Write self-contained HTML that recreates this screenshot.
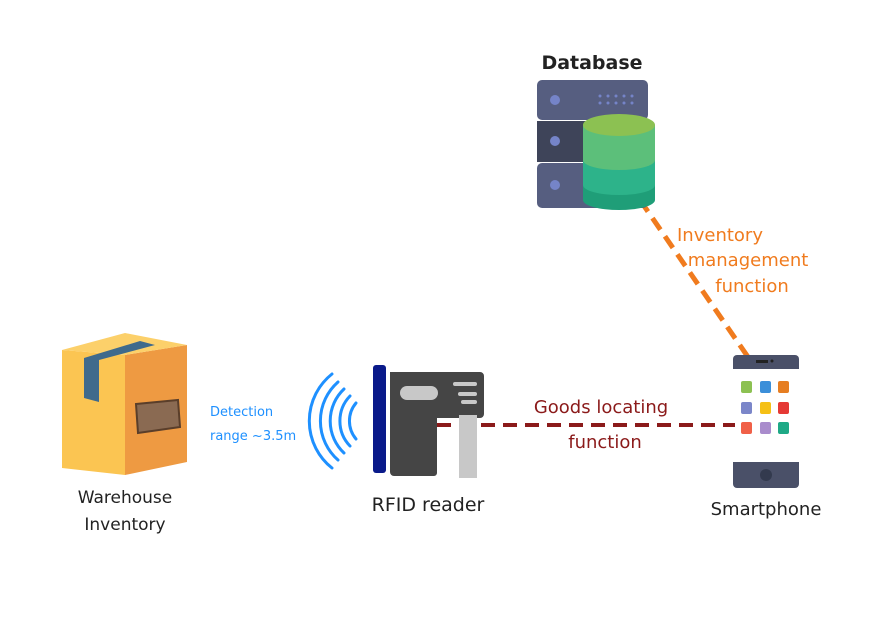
<!DOCTYPE html>
<html><head><style>html,body{margin:0;padding:0;background:#fff}svg{display:block}</style></head>
<body>
<svg width="890" height="630" viewBox="0 0 890 630" xmlns="http://www.w3.org/2000/svg" font-family="'DejaVu Sans','Liberation Sans',sans-serif">
<rect width="890" height="630" fill="#fff"/>
<line x1="640" y1="200" x2="748" y2="357" stroke="#f07b1e" stroke-width="5" stroke-dasharray="14,8"/>
<line x1="437" y1="425" x2="735" y2="425" stroke="#8b1a1a" stroke-width="4" stroke-dasharray="14,8"/>
<rect x="537" y="80" width="111" height="40" rx="5" fill="#565e80"/>
<rect x="537" y="121" width="111" height="41" fill="#3e4459"/>
<rect x="537" y="163" width="111" height="45" rx="5" fill="#565e80"/>
<circle cx="555" cy="100" r="5" fill="#7584c8"/>
<circle cx="555" cy="141" r="5" fill="#7584c8"/>
<circle cx="555" cy="185" r="5" fill="#7584c8"/>
<g fill="#7584c8"><circle cx="600" cy="96" r="1.5"/><circle cx="608" cy="96" r="1.5"/><circle cx="616" cy="96" r="1.5"/><circle cx="624" cy="96" r="1.5"/><circle cx="632" cy="96" r="1.5"/><circle cx="600" cy="103" r="1.5"/><circle cx="608" cy="103" r="1.5"/><circle cx="616" cy="103" r="1.5"/><circle cx="624" cy="103" r="1.5"/><circle cx="632" cy="103" r="1.5"/></g>
<path d="M583 185 v15 a36 10 0 0 0 72 0 v-15z" fill="#1f9e78"/>
<path d="M583 160 v25 a36 10 0 0 0 72 0 v-25z" fill="#2db38a"/>
<path d="M583 125 v35 a36 10 0 0 0 72 0 v-35z" fill="#5cbf7a"/>
<ellipse cx="619" cy="125" rx="36" ry="11" fill="#8cc152"/>
<text x="592" y="69" text-anchor="middle" font-size="19" font-weight="bold" fill="#222">Database</text>
<text x="720" y="241" text-anchor="middle" font-size="18" fill="#f07b1e">Inventory</text>
<text x="748" y="266" text-anchor="middle" font-size="18" fill="#f07b1e">management</text>
<text x="752" y="292" text-anchor="middle" font-size="18" fill="#f07b1e">function</text>
<path d="M737 355 h58 a4 4 0 0 1 4 4 v10 h-66 v-10 a4 4 0 0 1 4 -4z" fill="#4a5068"/>
<rect x="756" y="360" width="12" height="3" fill="#222"/><circle cx="772" cy="361" r="1.5" fill="#222"/>
<path d="M733 462 h66 v22 a4 4 0 0 1 -4 4 h-58 a4 4 0 0 1 -4 -4z" fill="#4a5068"/>
<circle cx="766" cy="475" r="6" fill="#333a4e"/>
<rect x="741" y="381" width="11" height="12" rx="2" fill="#8cc152"/>
<rect x="760" y="381" width="11" height="12" rx="2" fill="#3b8fd9"/>
<rect x="778" y="381" width="11" height="12" rx="2" fill="#e67e22"/>
<rect x="741" y="402" width="11" height="12" rx="2" fill="#7b86c9"/>
<rect x="760" y="402" width="11" height="12" rx="2" fill="#f5c016"/>
<rect x="778" y="402" width="11" height="12" rx="2" fill="#e53935"/>
<rect x="741" y="422" width="11" height="12" rx="2" fill="#f06048"/>
<rect x="760" y="422" width="11" height="12" rx="2" fill="#a98ccc"/>
<rect x="778" y="422" width="11" height="12" rx="2" fill="#1fa986"/>
<text x="766" y="515" text-anchor="middle" font-size="18" fill="#222">Smartphone</text>
<text x="601" y="413" text-anchor="middle" font-size="18" fill="#8b1a1a">Goods locating</text>
<text x="605" y="448" text-anchor="middle" font-size="18" fill="#8b1a1a">function</text>
<path d="M390 372 h90 a4 4 0 0 1 4 4 v38 a4 4 0 0 1 -4 4 h-43 v55 a3 3 0 0 1 -3 3 h-40 a4 4 0 0 1 -4 -4z" fill="#454545"/>
<rect x="459" y="415" width="18" height="63" fill="#c8c8c8"/>
<rect x="400" y="386" width="38" height="14" rx="7" fill="#c8c8c8"/>
<rect x="453" y="382" width="24" height="4" rx="2" fill="#c8c8c8"/>
<rect x="458" y="392" width="19" height="4" rx="2" fill="#c8c8c8"/>
<rect x="461" y="400" width="16" height="4" rx="2" fill="#c8c8c8"/>
<rect x="373" y="365" width="13" height="108" rx="3" fill="#0a1a8a"/>
<g fill="none" stroke="#1e90ff" stroke-width="3" stroke-linecap="round">
<path d="M332 374 a60 60 0 0 0 0 94"/>
<path d="M338 382 a52 52 0 0 0 0 78"/>
<path d="M344 389 a44 44 0 0 0 0 64"/>
<path d="M350 396 a36 36 0 0 0 0 50"/>
<path d="M356 403 a28 28 0 0 0 0 36"/>
</g>
<text x="428" y="511" text-anchor="middle" font-size="19" fill="#222">RFID reader</text>
<text x="210" y="416" font-size="13" fill="#1e90ff">Detection</text>
<text x="210" y="440" font-size="13" fill="#1e90ff">range ~3.5m</text>
<path d="M62 350 L125 355 L125 475 L62 468z" fill="#fbc552"/>
<path d="M125 355 L187 345 L187 462 L125 475z" fill="#ee9a42"/>
<path d="M62 350 L125 333 L187 345 L125 355z" fill="#fcd06a"/>
<path d="M84 358 L84 398 L99 402 L99 360 L155 345 L140 341z" fill="#3f6a8c"/>
<path d="M136 404 L178 400 L180 427 L138 433z" fill="#8a6a52" stroke="#5a3e2a" stroke-width="2"/>
<text x="125" y="503" text-anchor="middle" font-size="17" fill="#222">Warehouse</text>
<text x="125" y="530" text-anchor="middle" font-size="17" fill="#222">Inventory</text>
</svg>
</body></html>
